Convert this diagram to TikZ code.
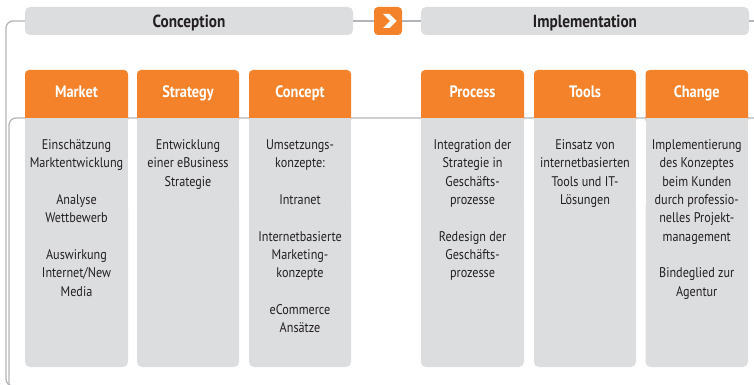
\documentclass[tikz,border=0pt]{standalone}
\usepackage{fontspec}
\setmainfont{PT Sans}[FakeStretch=0.87]
\definecolor{brandorange}{RGB}{243,130,42}
\definecolor{panelgray}{RGB}{220,221,223}
\definecolor{rulegray}{RGB}{180,181,184}
\definecolor{inkdark}{RGB}{35,31,32}
\tikzset{
  rule/.style={draw=rulegray, line width=1.3pt, rounded corners=7pt},
  phasebar/.style={fill=panelgray, rounded corners=5pt, minimum width=328pt,
    minimum height=28pt, inner sep=0pt},
  phaselabel/.style={text=inkdark, inner sep=0pt, anchor=base,
    font=\fontsize{17.5}{20}\selectfont\bfseries},
  chevbox/.style={fill=brandorange, rounded corners=4pt, minimum size=28pt, inner sep=0pt},
  tablabel/.style={text=white, inner sep=0pt, anchor=base,
    font=\fontsize{16.5}{19}\selectfont\bfseries},
  bodytext/.style={text=inkdark, inner sep=0pt, anchor=north, align=center,
    font=\fontsize{14}{18.3}\selectfont, execute at begin node=\strut}
}
% one column: orange tab on top of a grey panel
\newcommand\column[2]{%
  \fill[brandorange, rounded corners=4pt] (#1,70) rectangle (#2,124);
  \fill[panelgray] (#1,118) rectangle (#2,300);
  \fill[panelgray, rounded corners=5pt] (#1,200) rectangle (#2,367);
}
\begin{document}
\begin{tikzpicture}[x=1pt,y=-1pt]
\useasboundingbox (0,0) rectangle (754,385);

% phase headers
\node[phasebar] (conc) at (189,21) {};
\node[phasebar] (impl) at (585,21) {};
\node[chevbox] (chev) at (388,21) {};
\node[phaselabel] (concT) at (189,27.8) {Conception};
\node[phaselabel] (implT) at (585,27.8) {Implementation};
\fill[white] (383,14) -- (389.5,14) -- (396.5,21) -- (389.5,28) -- (383,28) -- (390,21) -- cycle;

% connecting rules
\coordinate (outerEnd) at (20,386);
\coordinate (innerStart) at (755,118);
\coordinate (innerEnd) at (9,390);
\coordinate (topEnd) at (755,21);
\draw[rule] (conc.west) -- (6,21) -- (6,386) -- (outerEnd);
\draw[rule] (innerStart) -- (9,118) -- (innerEnd);
\draw[rule] (conc.east) -- (chev.west);
\draw[rule] (chev.east) -- (impl.west);
\draw[rule] (impl.east) -- (topEnd);

% columns
\column{25}{128}
\column{137}{239}
\column{249}{351}
\column{421}{524}
\column{534}{636}
\column{645.5}{748}

\node[tablabel] (tMarket) at (76.5,97.7) {Market};
\node[tablabel] (tStrategy) at (188,97.7) {Strategy};
\node[tablabel] (tConcept) at (300,97.7) {Concept};
\node[tablabel] (tProcess) at (472.5,97.7) {Process};
\node[tablabel] (tTools) at (585,97.7) {Tools};
\node[tablabel] (tChange) at (696.75,97.7) {Change};

\node[bodytext] (bMarket) at (76.5,139.5) {Einschätzung\\Marktentwicklung\\[18.3pt]Analyse\\Wettbewerb\\[18.3pt]Auswirkung\\Internet/New\\Media};
\node[bodytext] (bStrategy) at (188,139.5) {Entwicklung\\einer eBusiness\\Strategie};
\node[bodytext] (bConcept) at (300,139.5) {Umsetzungs-\\konzepte:\\[18.3pt]Intranet\\[18.3pt]Internetbasierte\\Marketing-\\konzepte\\[18.3pt]eCommerce\\Ansätze};
\node[bodytext] (bProcess) at (472.5,139.5) {Integration der\\Strategie in\\Geschäfts-\\prozesse\\[18.3pt]Redesign der\\Geschäfts-\\prozesse};
\node[bodytext] (bTools) at (585,139.5) {Einsatz von\\internetbasierten\\Tools und IT-\\Lösungen};
\node[bodytext] (bChange) at (696.75,139.5) {Implementierung\\des Konzeptes\\beim Kunden\\durch professio-\\nelles Projekt-\\management\\[18.3pt]Bindeglied zur\\Agentur};
\end{tikzpicture}
\end{document}
